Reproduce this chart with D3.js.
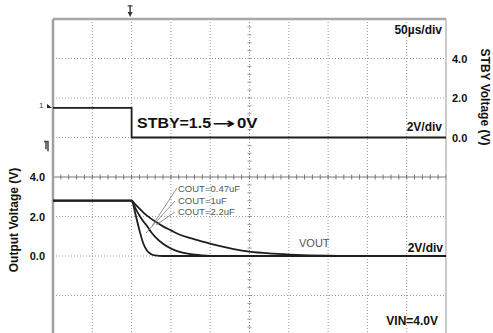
<!DOCTYPE html>
<html><head><meta charset="utf-8">
<script src="https://cdn.jsdelivr.net/npm/d3@7"></script>
<style>
html,body{margin:0;padding:0;background:#fff;}
svg{display:block;font-family:"Liberation Sans",Arial,sans-serif;}
</style></head>
<body>
<svg id="c" width="493" height="333"></svg>
<script>
// ---- data ----
const timeUs = [-100, 0, 5, 10, 15, 20, 25, 30, 40, 50, 60, 75, 90, 110, 130, 150, 180, 210, 250, 300, 350, 400];
const vout047 = [2.8, 2.8, 2.1, 1.3, 0.62, 0.25, 0.09, 0.03, 0, 0, 0, 0, 0, 0, 0, 0, 0, 0, 0, 0, 0, 0];
const vout1   = [2.8, 2.8, 2.4, 2.05, 1.75, 1.5, 1.2, 0.97, 0.62, 0.38, 0.22, 0.09, 0.03, 0, 0, 0, 0, 0, 0, 0, 0, 0];
const vout22  = [2.8, 2.8, 2.6, 2.4, 2.2, 2.03, 1.88, 1.75, 1.5, 1.3, 1.1, 0.9, 0.73, 0.52, 0.35, 0.22, 0.12, 0.06, 0.02, 0, 0, 0];
const stbyTime = [-100, 0, 0, 400];
const stbyV    = [1.5, 1.5, 0, 0];
const seriesNames = ["COUT=0.47uF", "COUT=1uF", "COUT=2.2uF"];
const tickLabels = [0, 2, 4];

const svg = d3.select("#c");
const L = 53, R = 446, T = 19, B = 335;
const x = d3.scaleLinear().domain([-100, 400]).range([L, R]);
const yS = d3.scaleLinear().domain([-10, 6]).range([B, T]);   // STBY scale
const yO = d3.scaleLinear().domain([-4, 12]).range([B, T]);   // Output scale

// grid
const g = svg.append("g");
d3.range(-50, 400, 50).forEach(t => {
  if (t === 150) return;
  g.append("line").attr("x1", x(t)).attr("x2", x(t)).attr("y1", T).attr("y2", B)
    .attr("stroke", "#9a9a9a").attr("stroke-width", 1).attr("stroke-dasharray", "1,2");
});
d3.range(-8, 6, 2).forEach(v => {
  if (v === -2) return;
  g.append("line").attr("x1", L).attr("x2", R).attr("y1", yS(v)).attr("y2", yS(v))
    .attr("stroke", "#9a9a9a").attr("stroke-width", 1).attr("stroke-dasharray", "1,2");
});
// center lines with minor ticks
const cy = yS(-2), cx = x(150);
g.append("line").attr("x1", L).attr("x2", R).attr("y1", cy).attr("y2", cy)
  .attr("stroke", "#777").attr("stroke-width", 1);
g.append("line").attr("x1", cx).attr("x2", cx).attr("y1", T).attr("y2", B)
  .attr("stroke", "#999").attr("stroke-width", 1).attr("stroke-dasharray", "1,2");
d3.range(-100, 400.1, 10).forEach(t => {
  g.append("line").attr("x1", x(t)).attr("x2", x(t)).attr("y1", cy - 2.5).attr("y2", cy + 2.5)
    .attr("stroke", "#777").attr("stroke-width", 1);
});
d3.range(-10, 6.01, 0.4).forEach(v => {
  g.append("line").attr("x1", cx - 2).attr("x2", cx + 2).attr("y1", yS(v)).attr("y2", yS(v))
    .attr("stroke", "#999").attr("stroke-width", 1);
});

// frame
svg.append("line").attr("x1", L).attr("x2", R).attr("y1", T).attr("y2", T).attr("stroke", "#a8a8a8").attr("stroke-width", 2.5);
svg.append("line").attr("x1", L).attr("x2", L).attr("y1", T).attr("y2", B).attr("stroke", "#a0a0a0").attr("stroke-width", 2.5);
svg.append("line").attr("x1", R).attr("x2", R).attr("y1", T).attr("y2", B).attr("stroke", "#aaa").attr("stroke-width", 1.2);

// traces
const stbyLine = d3.line().x((d, i) => x(stbyTime[i])).y(d => yS(d));
svg.append("path").attr("d", stbyLine(stbyV)).attr("fill", "none").attr("stroke", "#1e1e1e").attr("stroke-width", 1.8);

const outLine = d3.line().x((d, i) => x(timeUs[i])).y(d => yO(d)).curve(d3.curveMonotoneX);
[vout22, vout1, vout047].forEach(s => {
  svg.append("path").attr("d", outLine(s)).attr("fill", "none").attr("stroke", "#1e1e1e").attr("stroke-width", 1.8);
});

// axes
const axR = d3.axisRight(yS).tickValues(tickLabels).tickSize(0).tickPadding(6).tickFormat(d3.format(".1f"));
const gr = svg.append("g").attr("transform", `translate(${R},0)`).call(axR);
const axL = d3.axisLeft(yO).tickValues(tickLabels).tickSize(0).tickPadding(8).tickFormat(d3.format(".1f"));
const gl = svg.append("g").attr("transform", `translate(${L},0)`).call(axL);
[gr, gl].forEach(a => {
  a.select(".domain").remove();
  a.selectAll("text").attr("font-size", 11).attr("font-weight", "bold").attr("fill", "#111")
    .attr("font-family", "Liberation Sans, Arial, sans-serif");
});

// axis titles
svg.append("text").attr("transform", "translate(18,220) rotate(-90)").attr("text-anchor", "middle")
  .attr("font-size", 12).attr("font-weight", "bold").attr("fill", "#111").text("Output Voltage (V)");
svg.append("text").attr("transform", "translate(481,97) rotate(90)").attr("text-anchor", "middle")
  .attr("font-size", 12).attr("font-weight", "bold").attr("fill", "#111").text("STBY Voltage (V)");

// annotations
const ann = (t, tx, ty, opts = {}) => svg.append("text").attr("x", tx).attr("y", ty)
  .attr("text-anchor", opts.anchor || "start").attr("font-size", opts.size || 11)
  .attr("font-weight", opts.weight || "bold").attr("fill", opts.fill || "#111").text(t);
ann("50µs/div", 442, 34, {anchor: "end", size: 12});
ann("2V/div", 442, 131, {anchor: "end", size: 12});
ann("2V/div", 443, 252, {anchor: "end", size: 12});
ann("VIN=4.0V", 438, 325, {anchor: "end", size: 12});
// STBY label, slightly stretched like the original
const sg = svg.append("g").attr("font-size", 14).attr("font-weight", "bold").attr("fill", "#111");
sg.append("text").attr("transform", "translate(137,128) scale(1.14,1)").text("STBY=1.5");
sg.append("text").attr("transform", "translate(212,128) scale(2.0,1)").attr("font-family", "DejaVu Sans").text("→");
sg.append("text").attr("transform", "translate(237,128) scale(1.2,1)").text("0V");
ann("VOUT", 299, 247, {size: 11, weight: "normal", fill: "#555"}).attr("font-family", "Liberation Sans Narrow, Arial Narrow, sans-serif");

// COUT labels + leader lines
const labY = [192, 204, 215];
const leaders = [[177, 188, 152, 226], [175, 201, 146, 233], [175, 212, 156, 225]];
seriesNames.forEach((n, i) => {
  svg.append("text").attr("x", 178).attr("y", labY[i]).attr("font-size", 9.5).attr("fill", "#555")
    .attr("font-family", "Liberation Sans Narrow, Arial Narrow, sans-serif").text(n);
  const l = leaders[i];
  svg.append("line").attr("x1", l[0]).attr("y1", l[1]).attr("x2", l[2]).attr("y2", l[3])
    .attr("stroke", "#777").attr("stroke-width", 0.8);
});

// channel markers
svg.append("path").attr("d", `M${x(0) - 4},12 L${x(0) + 1},12 L${x(0) - 1.5},17 Z`).attr("fill", "#333");
svg.append("line").attr("x1", x(0) - 1.5).attr("x2", x(0) - 1.5).attr("y1", 5).attr("y2", 12).attr("stroke", "#444").attr("stroke-width", 1.5);
svg.append("line").attr("x1", x(0) - 4).attr("x2", x(0) + 1).attr("y1", 6).attr("y2", 6).attr("stroke", "#444").attr("stroke-width", 1.2);
svg.append("path").attr("d", `M${L - 6},${yS(1.5) - 4} L${L - 1},${yS(1.5)} L${L - 6},${yS(1.5)} Z`).attr("fill", "#222");
svg.append("text").attr("x", L - 14).attr("y", yS(1.5)).attr("font-size", 8).attr("fill", "#444").text("1");
svg.append("path").attr("d", `M${L - 9},${yS(-0.2)} L${L - 5},${yS(-0.2)} L${L - 5},${yS(-0.7)} M${L - 7},${yS(-0.2)} L${L - 7},${yS(-0.6)}`)
  .attr("fill", "none").attr("stroke", "#444").attr("stroke-width", 1.5);
</script>
</body></html>
